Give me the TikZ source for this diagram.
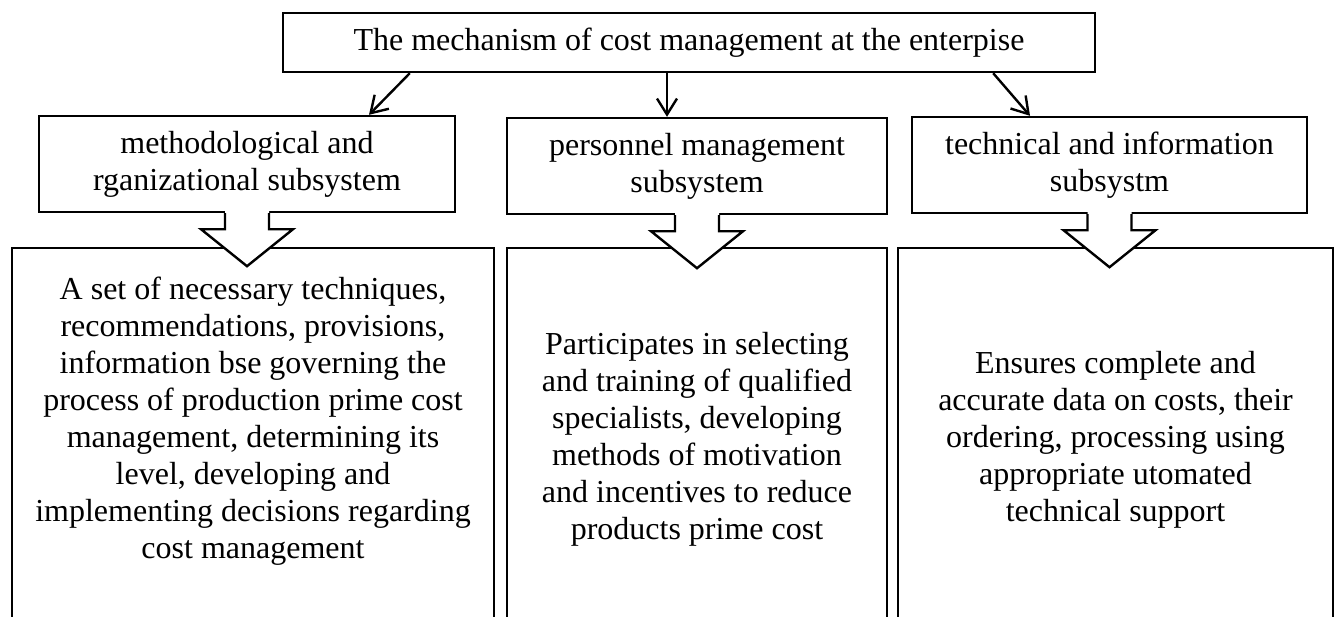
\documentclass[tikz,border=0pt]{standalone}
\usepackage{fontspec}
\setmainfont{Liberation Serif}
\usetikzlibrary{arrows.meta,calc}
\tikzset{
  box/.style={draw,line width=1.2pt,align=center,inner sep=0pt,font=\fontsize{16}{18.6}\selectfont},
  txt/.style={align=center,inner sep=0pt,font=\fontsize{16}{18.5}\selectfont},
  link/.style={line width=1.2pt,-{Straight Barb[length=8pt,width=10pt]}},
  blockarr/.style={line width=1.2pt}
}
\begin{document}
\begin{tikzpicture}[x=0.5pt,y=-0.5pt]
    \useasboundingbox (0,0) rectangle (1338,616);
    \clip (0,0) rectangle (1338,616);

    %%%%%%%%%% Boxes %%%%%%%%%%
    \node[box,minimum width=406pt,minimum height=29.5pt] (top) at (689,42.5)
        {The mechanism of cost management at the enterpise};

    \node[box,minimum width=208pt,minimum height=48pt] (m1) at (247,164)
        {methodological and\\rganizational subsystem};
    \node[box,minimum width=190pt,minimum height=48pt] (m2) at (697,166)
        {personnel management\\subsystem};
    \node[box,minimum width=197.5pt,minimum height=48pt] (m3) at (1109.5,165)
        {technical and information\\subsystm};

    \node[draw,line width=1.2pt,minimum width=241pt,minimum height=206pt] (b1) at (253,454) {};
    \node[draw,line width=1.2pt,minimum width=190pt,minimum height=206pt] (b2) at (697,454) {};
    \node[draw,line width=1.2pt,minimum width=217.5pt,minimum height=206pt] (b3) at (1115.5,454) {};

    \node[txt] (t1) at (253,421) {A set of necessary techniques,\\recommendations, provisions,\\information bse governing the\\process of production prime cost\\management, determining its\\level, developing and\\implementing decisions regarding\\cost management};
    \node[txt] (t2) at (697,439.5) {Participates in selecting\\and training of qualified\\specialists, developing\\methods of motivation\\and incentives to reduce\\products prime cost};
    \node[txt] (t3) at (1115.5,439.5) {Ensures complete and\\accurate data on costs, their\\ordering, processing using\\appropriate utomated\\technical support};

    %%%%%%%%% Arrows %%%%%%%%%
    \draw[link] ($(top.south west)+(128,0)$) -- ($(m1.north)+(122,0)$);
    \draw[link] ($(top.south)+(-22,0)$) -- ($(m2.north)+(-30,0)$);
    \draw[link] ($(top.south east)+(-103,0)$) -- ($(m3.north)+(-79.5,0)$);

    \foreach \m in {m1,m2,m3} {
        \fill[white] ($(\m.south)+(-22,-4)$) -- ++(0,20) -- ++(-24,0) -- ++(46,37) -- ++(46,-37) -- ++(-24,0) -- ++(0,-20) -- cycle;
        \draw[blockarr] ($(\m.south)+(-22,0)$) -- ++(0,16) -- ++(-24,0) -- ++(46,37) -- ++(46,-37) -- ++(-24,0) -- ++(0,-16);
    }
\end{tikzpicture}
\end{document}
